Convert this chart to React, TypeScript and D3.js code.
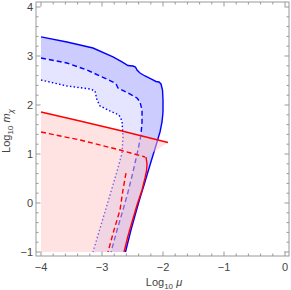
import React from "react";
import * as d3 from "d3";

type P = [number, number];

const xTicks = [-4, -3, -2, -1, 0];
const yTicks = [-1, 0, 1, 2, 3, 4];

// outer blue contour (solid)
const blueSolid: P[] = [
  [-4, 3.39], [-3.574, 3.286], [-3.148, 3.163], [-2.82, 2.98], [-2.672, 2.878],
  [-2.574, 2.806], [-2.492, 2.796], [-2.451, 2.776], [-2.426, 2.714], [-2.377, 2.653],
  [-2.295, 2.592], [-2.197, 2.531], [-2.115, 2.48], [-2.066, 2.469], [-2.033, 2.429],
  [-2.008, 2.306], [-2.0, 2.102], [-2.0, 1.857], [-2.016, 1.653], [-2.049, 1.449],
  [-2.098, 1.245], [-2.148, 1.041], [-2.213, 0.776], [-2.262, 0.571], [-2.311, 0.367],
  [-2.377, 0.102], [-2.443, -0.184], [-2.525, -0.551], [-2.615, -1],
];
// middle blue contour (dashed)
const blueDashed: P[] = [
  [-4, 2.959], [-3.574, 2.857], [-3.246, 2.714], [-3.033, 2.592], [-2.82, 2.469],
  [-2.77, 2.429], [-2.738, 2.347], [-2.574, 2.245], [-2.426, 2.143], [-2.377, 2.061],
  [-2.344, 1.898], [-2.344, 1.653], [-2.361, 1.388], [-2.41, 1.082], [-2.459, 0.816],
  [-2.508, 0.551], [-2.574, 0.224], [-2.656, -0.143], [-2.754, -0.551], [-2.852, -1],
];
// inner blue contour (dotted)
const blueDotted: P[] = [
  [-4, 2.51], [-3.574, 2.388], [-3.197, 2.327], [-3.115, 2.286], [-3.082, 2.102],
  [-3.033, 1.98], [-2.869, 1.878], [-2.721, 1.796], [-2.672, 1.673], [-2.656, 1.347],
  [-2.672, 1.02], [-2.738, 0.714], [-2.82, 0.367], [-2.967, -0.245], [-3.148, -1],
];
// red solid contour
const redSolidTop: P[] = [
  [-4, 1.857], [-3.361, 1.673], [-2.705, 1.48], [-1.918, 1.235],
];
const redSolidRight: P[] = [
  [-2.279, 0.939], [-2.262, 0.796], [-2.27, 0.653], [-2.295, 0.51], [-2.344, 0.265],
  [-2.426, -0.041], [-2.508, -0.388], [-2.574, -0.673], [-2.639, -1],
];
// red dashed contour
const redDashedTop: P[] = [
  [-4, 1.449], [-3.361, 1.286], [-2.705, 1.082], [-2.295, 0.939],
];
const redDashedRight: P[] = [
  [-2.607, 0.612], [-2.656, 0.265], [-2.705, -0.143], [-2.803, -0.551], [-2.902, -1],
];

const corner: P = [-4, -1];

export default function App() {
  const W = 291, H = 290;
  const x = d3.scaleLinear().domain([-4, 0]).range([41, 285]);
  const y = d3.scaleLinear().domain([-1, 4]).range([252, 7]);
  const fL = x(-4) - 5, fR = x(0) + 4, fT = y(4) - 5, fB = y(-1) + 4;

  const line = d3.line<P>().x((d) => x(d[0])).y((d) => y(d[1]));
  const poly = (pts: P[]) => line([...pts, corner]) + "Z";

  const outer = poly(blueSolid);
  const mid = poly(blueDashed);
  const inner = poly(blueDotted);
  const pink = poly([...redSolidTop, ...redSolidRight]);

  const fmt = (v: number) => (v < 0 ? "\u2212" + Math.abs(v) : String(v));
  const minorX = d3.range(-40, 1, 2).map((v) => v / 10);
  const minorY = d3.range(-10, 41, 2).map((v) => v / 10);
  const frameColor = "#999";
  const font = "'Liberation Sans', Arial, sans-serif";

  return (
    <svg width={W} height={H} style={{ position: "absolute", left: 0, top: 0 }}>
      <rect x={0} y={0} width={W} height={H} fill="white" />
      {/* blue bands */}
      <path d={outer + mid} fill="rgb(0,0,255)" fillOpacity={0.2} fillRule="evenodd" />
      <path d={mid + inner} fill="rgb(0,0,255)" fillOpacity={0.1} fillRule="evenodd" />
      <path d={line(blueSolid)!} fill="none" stroke="#0000ff" strokeWidth={1.4} />
      <path d={line(blueDashed)!} fill="none" stroke="#0000ff" strokeWidth={1.4} strokeDasharray="5,3" />
      <path d={line(blueDotted)!} fill="none" stroke="#0000ff" strokeWidth={1.4} strokeDasharray="1.5,2.2" />
      {/* pink region */}
      <path d={pink} fill="rgb(255,197,197)" fillOpacity={0.5} />
      <path d={line(redSolidTop)!} fill="none" stroke="#ff0000" strokeWidth={1.4} />
      <path d={line(redSolidRight)!} fill="none" stroke="#ff0000" strokeWidth={1.4} />
      <path d={line(redDashedTop)!} fill="none" stroke="#ff0000" strokeWidth={1.4} strokeDasharray="5,3" />
      <path d={line(redDashedRight)!} fill="none" stroke="#ff0000" strokeWidth={1.4} strokeDasharray="5,3" />

      {/* frame */}
      <rect x={fL} y={fT} width={fR - fL} height={fB - fT} fill="none" stroke={frameColor} strokeWidth={1} />
      {minorX.map((v) => {
        const major = Math.abs(v - Math.round(v)) < 1e-6;
        const len = major ? 4.5 : 2.5;
        return (
          <g key={"mx" + v}>
            <line x1={x(v)} x2={x(v)} y1={fB} y2={fB - len} stroke={frameColor} />
            <line x1={x(v)} x2={x(v)} y1={fT} y2={fT + len} stroke={frameColor} />
          </g>
        );
      })}
      {minorY.map((v) => {
        const major = Math.abs(v - Math.round(v)) < 1e-6;
        const len = major ? 4.5 : 2.5;
        return (
          <g key={"my" + v}>
            <line x1={fL} x2={fL + len} y1={y(v)} y2={y(v)} stroke={frameColor} />
            <line x1={fR} x2={fR - len} y1={y(v)} y2={y(v)} stroke={frameColor} />
          </g>
        );
      })}
      {xTicks.map((v) => (
        <text key={"xt" + v} x={x(v)} y={271} textAnchor="middle" fontSize={11} fontFamily={font} fill="#444">
          {fmt(v)}
        </text>
      ))}
      {yTicks.map((v) => (
        <text key={"yt" + v} x={33} y={y(v) + 4} textAnchor="end" fontSize={11} fontFamily={font} fill="#444">
          {fmt(v)}
        </text>
      ))}
      <text x={164} y={286} textAnchor="middle" fontSize={11} fontFamily={font} fill="#444">
        Log<tspan fontSize={8} dy={3}>10</tspan>
        <tspan dy={-3}> </tspan>
        <tspan fontStyle="italic">μ</tspan>
      </text>
      <text transform={`translate(10,${131}) rotate(-90)`} textAnchor="middle" fontSize={11} fontFamily={font} fill="#444">
        Log<tspan fontSize={8} dy={3}>10</tspan>
        <tspan dy={-3}> </tspan>
        <tspan fontStyle="italic">m</tspan>
        <tspan fontStyle="italic" fontSize={8} dy={3}>χ</tspan>
      </text>
    </svg>
  );
}
